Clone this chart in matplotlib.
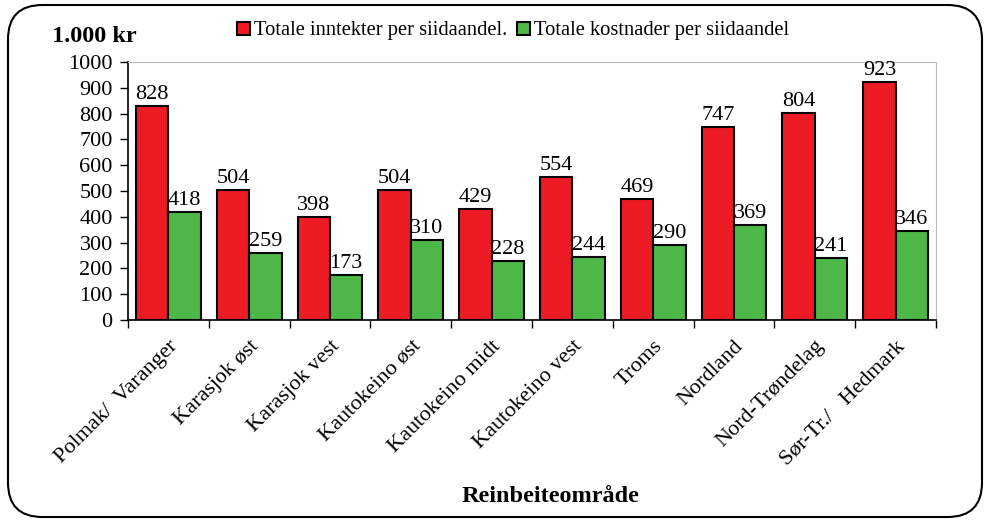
import matplotlib.pyplot as plt
import numpy as np
from matplotlib.patches import FancyBboxPatch

omraader = ['Polmak/  Varanger', 'Karasjok øst', 'Karasjok vest', 'Kautokeino øst',
            'Kautokeino midt', 'Kautokeino vest', 'Troms', 'Nordland',
            'Nord-Trøndelag', 'Sør-Tr./   Hedmark']
inntekter = [828, 504, 398, 504, 429, 554, 469, 747, 804, 923]
kostnader = [418, 259, 173, 310, 228, 244, 290, 369, 241, 346]

plt.rcParams['font.family'] = ['Liberation Serif', 'DejaVu Serif']

fig = plt.figure(figsize=(9.84, 5.21), dpi=100)
ax = fig.add_axes([128 / 984, 1 - 320 / 521, 808 / 984, 258 / 521])

x = np.arange(len(omraader))
w = 0.4
ax.bar(x - w / 2, inntekter, w, color='#ED1C24', edgecolor='black', linewidth=1.5,
       label='Totale inntekter per siidaandel.')
ax.bar(x + w / 2, kostnader, w, color='#4DB848', edgecolor='black', linewidth=1.5,
       label='Totale kostnader per siidaandel')

for i in range(len(x)):
    ax.text(x[i] - w / 2, inntekter[i] + 8, str(inntekter[i]), ha='center', va='bottom', fontsize=16)
    ax.text(x[i] + w / 2, kostnader[i] + 8, str(kostnader[i]), ha='center', va='bottom', fontsize=16)

ax.set_xlim(-0.5, len(x) - 0.5)
ax.set_ylim(0, 1000)
ax.set_yticks(range(0, 1001, 100))
ax.tick_params(axis='y', labelsize=16, length=6, width=1, direction='out', pad=5)
ax.set_xticks(list(x - 0.5) + [len(x) - 0.5])
ax.set_xticklabels([])
ax.set_xticks(x, omraader, minor=True, rotation=45, ha='right', rotation_mode='anchor', fontsize=16)
ax.tick_params(axis='x', which='major', length=6, width=1)
ax.tick_params(axis='x', which='minor', length=0, pad=12)

ax.spines['top'].set_color('#BBBBBB')
ax.spines['right'].set_color('#BBBBBB')
ax.spines['left'].set_linewidth(1.2)
ax.spines['bottom'].set_linewidth(1.2)

fig.text(52 / 984, 1 - 36 / 521, '1.000 kr', fontsize=17.5, fontweight='bold', va='center')
fig.text(550 / 984, 1 - 497 / 521, 'Reinbeiteområde', fontsize=17.5,
         fontweight='bold', ha='center', va='center')

ax.legend(loc='center', bbox_to_anchor=(513 / 984, 1 - 31 / 521), bbox_transform=fig.transFigure,
          ncol=2, frameon=False, fontsize=14.8, handlelength=0.6, handleheight=0.6,
          handletextpad=0.2, columnspacing=0.5, borderpad=0)

border = FancyBboxPatch((8 / 984, 4 / 521), 974 / 984, 512 / 521,
                        boxstyle='round,pad=0,rounding_size=0.035', transform=fig.transFigure,
                        facecolor='none', edgecolor='black', linewidth=1.5, mutation_aspect=984 / 521)
fig.patches.append(border)

fig.savefig('out.png', dpi=100)
